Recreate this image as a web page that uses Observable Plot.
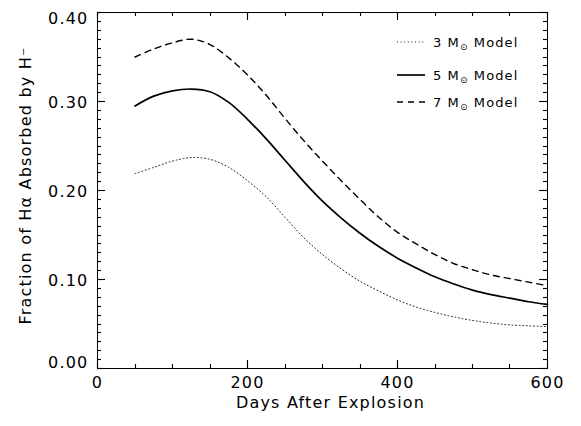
<!DOCTYPE html>
<html>
<head>
<meta charset="utf-8">
<script src="https://cdn.jsdelivr.net/npm/d3@7"></script>
<script src="https://cdn.jsdelivr.net/npm/@observablehq/plot@0.6"></script>
<style>
  html, body { margin: 0; padding: 0; background: #fff; }
  #chart { width: 581px; height: 426px; }
</style>
</head>
<body>
<div id="chart"></div>
<script>
// ---- data ----
const days = [50, 75, 100, 125, 150, 175, 200, 225, 250, 275, 300, 325, 350, 375, 400, 425, 450, 475, 500, 525, 550, 575, 600];
const model3 = [0.219, 0.226, 0.233, 0.237, 0.235, 0.226, 0.211, 0.193, 0.170, 0.147, 0.128, 0.112, 0.098, 0.087, 0.077, 0.069, 0.063, 0.058, 0.054, 0.051, 0.049, 0.048, 0.047];
const model5 = [0.295, 0.306, 0.312, 0.314, 0.311, 0.299, 0.280, 0.258, 0.234, 0.210, 0.188, 0.169, 0.152, 0.137, 0.124, 0.113, 0.103, 0.095, 0.088, 0.083, 0.079, 0.075, 0.072];
const model7 = [0.350, 0.359, 0.366, 0.370, 0.364, 0.349, 0.330, 0.307, 0.281, 0.256, 0.233, 0.211, 0.190, 0.170, 0.153, 0.140, 0.128, 0.118, 0.111, 0.105, 0.101, 0.097, 0.093];
const seriesNames = ["3", "5", "7"];
const xMajorTicks = [0, 200, 400, 600];
const xMinorTicks = [0, 50, 100, 150, 200, 250, 300, 350, 400, 450, 500, 550, 600];
const yMajorTicks = [0, 0.1, 0.2, 0.3, 0.4];
const yMinorTicks = d3.range(0, 41).map(i => i / 100);
const xTitle = "Days After Explosion";
const yTitle = "Fraction of H\u03b1 Absorbed by H\u207b";

// ---- layout ----
const W = 581, H = 426;
const mL = 97, mR = 34, mT = 12, mB = 58;
const xDom = [0, 600], yDom = [0, 0.4];
const major = 8, minor = 4;

const rows = [];
const all = [model3, model5, model7];
seriesNames.forEach((s, k) => days.forEach((d, i) => rows.push({series: s, day: d, value: all[k][i]})));
const styles = {
  "3": {stroke: "#222", strokeWidth: 1, strokeDasharray: "1,2.6"},
  "5": {stroke: "#000", strokeWidth: 1.7, strokeDasharray: null},
  "7": {stroke: "#000", strokeWidth: 1.4, strokeDasharray: "6,5"}
};

const font = "'DejaVu Sans', sans-serif";

const lineMarks = seriesNames.map(s => Plot.line(rows.filter(r => r.series === s), {
  x: "day", y: "value", curve: "catmull-rom", ...styles[s]
}));

const plot = Plot.plot({
  width: W, height: H,
  marginLeft: mL, marginRight: mR, marginTop: mT, marginBottom: mB,
  style: {fontFamily: font, fontSize: "16px", background: "#fff", color: "#000", letterSpacing: "1.2px"},
  x: {domain: xDom, axis: null},
  y: {domain: yDom, axis: null},
  marks: [
    Plot.frame({stroke: "#000", strokeWidth: 1}),
    // tick labels
    Plot.axisY([0.1, 0.2, 0.3], {anchor: "left", tickSize: 0, tickPadding: 9, dy: 1, tickFormat: d3.format(".2f"), label: null, fontSize: 16}),
    Plot.axisY([0.4], {anchor: "left", tickSize: 0, tickPadding: 9, dy: 6, tickFormat: d3.format(".2f"), label: null, fontSize: 16}),
    Plot.axisY([0], {anchor: "left", tickSize: 0, tickPadding: 9, dy: -6, tickFormat: d3.format(".2f"), label: null, fontSize: 16}),
    Plot.axisX(xMajorTicks, {anchor: "bottom", tickSize: 0, tickPadding: 8, tickFormat: d3.format("d"), label: null, fontSize: 16}),
    // titles
    Plot.text([xTitle], {frameAnchor: "bottom", lineAnchor: "middle", textAnchor: "middle", dx: 8, dy: 34, fontSize: 16, text: d => d}),
    Plot.text([yTitle], {frameAnchor: "left", lineAnchor: "middle", textAnchor: "middle", dx: -72, dy: -5, rotate: -90, fontSize: 16, letterSpacing: 1.6, text: d => d}),
    ...lineMarks
  ]
});

document.getElementById("chart").appendChild(plot);

// ---- inward ticks on all four sides, positioned with the plot's own scales ----
const sx = plot.scale("x"), sy = plot.scale("y");
const svg = d3.select(plot);
const X0 = sx.apply(xDom[0]), X1 = sx.apply(xDom[1]);
const Y0 = sy.apply(yDom[0]), Y1 = sy.apply(yDom[1]);
const tg = svg.append("g").attr("stroke", "#000").attr("stroke-width", 1.1);
[[yMinorTicks, minor], [yMajorTicks, major]].forEach(([ticks, len]) => {
  ticks.forEach(v => {
    const y = Math.round(sy.apply(v)) + 0.5;
    tg.append("line").attr("x1", X0).attr("x2", X0 + len).attr("y1", y).attr("y2", y);
    tg.append("line").attr("x1", X1 - len).attr("x2", X1).attr("y1", y).attr("y2", y);
  });
});
[[xMinorTicks, minor], [xMajorTicks, major]].forEach(([ticks, len]) => {
  ticks.forEach(v => {
    const x = Math.round(sx.apply(v)) + 0.5;
    tg.append("line").attr("x1", x).attr("x2", x).attr("y1", Y0).attr("y2", Y0 - len);
    tg.append("line").attr("x1", x).attr("x2", x).attr("y1", Y1).attr("y2", Y1 + len);
  });
});

// ---- legend ----
const legendRows = [{s: "3", y: 42}, {s: "5", y: 75}, {s: "7", y: 102}];
const lg = svg.append("g").attr("font-family", font).attr("font-size", 13)
  .attr("letter-spacing", "1.1px").attr("text-anchor", "start");
legendRows.forEach(r => {
  const st = styles[r.s];
  lg.append("line")
    .attr("x1", 397).attr("x2", 425).attr("y1", r.y).attr("y2", r.y)
    .attr("stroke", st.stroke).attr("stroke-width", st.strokeWidth)
    .attr("stroke-dasharray", st.strokeDasharray);
  const t = lg.append("text").attr("x", 433).attr("y", r.y + 5).attr("fill", "#000").attr("text-anchor", "start");
  t.append("tspan").text(r.s + " M");
  t.append("tspan").attr("font-size", 9).attr("dy", 3).text("\u2299");
  t.append("tspan").attr("dy", -3).text(" Model");
});
</script>
</body>
</html>
